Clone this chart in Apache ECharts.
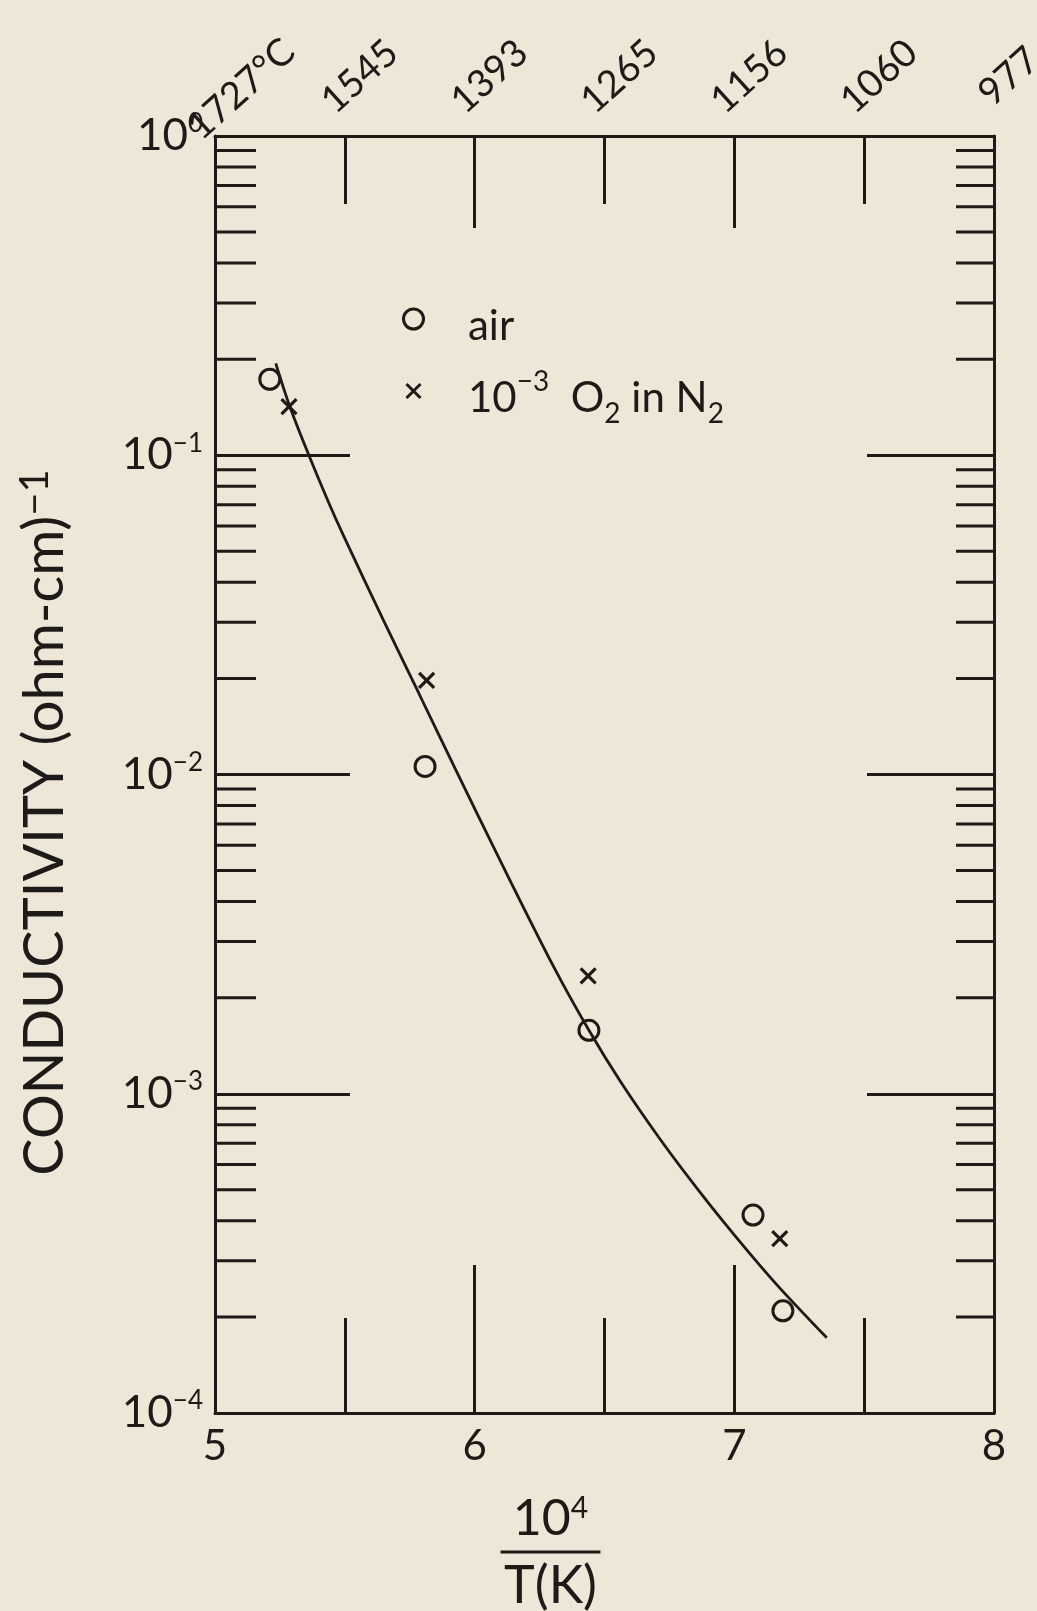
<!DOCTYPE html>
<html>
<head>
<meta charset="utf-8">
<script src="https://cdn.jsdelivr.net/npm/echarts@6/dist/echarts.min.js"></script>
<style>
html,body{margin:0;padding:0;background:#EEE7D8;}
#c{width:1037px;height:1611px;}
</style>
</head>
<body>
<div id="c"></div>
<script>
// ---------------- data ----------------
// x = 10^4 / T(K), y = conductivity (ohm-cm)^-1
const airX = [5.211, 5.809, 6.440, 7.072, 7.187];
const airY = [0.173, 0.0106, 0.00158, 0.000417, 0.000209];

const n2X = [5.285, 5.815, 6.437, 7.175];
const n2Y = [0.142, 0.0197, 0.00234, 0.000352];

const fitX = [5.234, 5.285, 5.353, 5.438, 5.494, 5.648, 5.783, 5.931, 6.097, 6.303, 6.440, 6.562, 6.715, 6.869, 7.010, 7.164, 7.356];
const fitY = [0.194, 0.1445, 0.104, 0.0710, 0.0562, 0.0305, 0.0181, 0.01019, 0.00540, 0.00251, 0.00158, 0.00109, 0.000719, 0.000490, 0.000353, 0.000252, 0.000172];

// axes
const xMin = 5, xMax = 8;
const bottomLabels = ['5', '6', '7', '8'];
const topTickValues = [5, 5.5, 6, 6.5, 7, 7.5, 8];
const topTickLabels = ['1727°C', '1545', '1393', '1265', '1156', '1060', '977'];
const yDecadeValues = [1e-4, 1e-3, 1e-2, 1e-1, 1];
const yDecadeExponents = ['−4', '−3', '−2', '−1', '0'];
const minorDecades = [1e-4, 1e-3, 1e-2, 1e-1];
const minorMultipliers = [2, 3, 4, 5, 6, 7, 8, 9];

const airName = 'air';
const n2Name = '10-3 O2 in N2';

// ---------------- styling ----------------
const INK = '#1d1a17';
const BG = '#EEE7D8';
const FONT = 'Lato, "DejaVu Sans", sans-serif';
const crossPath = 'path://M0,0 L10,10 M10,0 L0,10';
const crossLegendPath = 'path://M0,0 M20,20 M3,3 L17,17 M17,3 L3,17';

const minorTickValues = [];
minorDecades.forEach(d => minorMultipliers.forEach(m => minorTickValues.push(m * d)));

function yLabel(v) {
  let idx = 0, best = Infinity;
  yDecadeValues.forEach((d, i) => {
    const e = Math.abs(Math.log10(v) - Math.log10(d));
    if (e < best) { best = e; idx = i; }
  });
  return '{b|10}{s|' + yDecadeExponents[idx] + '}';
}
function topLabel(v) {
  let idx = 0, best = Infinity;
  topTickValues.forEach((t, i) => { const e = Math.abs(v - t); if (e < best) { best = e; idx = i; } });
  return (idx === 0 ? '{w|' : '{n|') + topTickLabels[idx] + '}';
}
function bottomLabel(v) {
  return bottomLabels[Math.round(v - xMin)];
}

const lineW = 3;
function xAxisBase(pos, interval, tickLen, showLine) {
  return {
    type: 'value', position: pos, min: xMin, max: xMax, interval: interval,
    axisLine: { show: showLine, onZero: false, lineStyle: { color: INK, width: lineW } },
    axisTick: { show: true, inside: true, length: tickLen, lineStyle: { color: INK, width: lineW } },
    axisLabel: { show: false },
    splitLine: { show: false }
  };
}

const chart = echarts.init(document.getElementById('c'), null, { renderer: 'canvas' });

const xAxes = [
  Object.assign(xAxisBase('bottom', 1, 148, true), {
    axisLabel: {
      show: true, formatter: bottomLabel, margin: 12,
      color: INK, fontFamily: FONT, fontSize: 42
    },
    name: '{n|10}{s|4}\n{bar| }\n{d|T(K)}',
    nameLocation: 'middle',
    nameGap: 80,
    nameTextStyle: {
      color: INK, fontFamily: FONT, align: 'center',
      padding: [0, 108, 0, 0],
      rich: {
        n: { fontSize: 50, lineHeight: 52, fontFamily: FONT, color: INK },
        s: { fontSize: 30, verticalAlign: 'top', fontFamily: FONT, color: INK },
        bar: { width: 100, height: 3, lineHeight: 14, backgroundColor: INK },
        d: { fontSize: 52, lineHeight: 54, fontFamily: FONT, color: INK }
      }
    }
  }),
  xAxisBase('bottom', 0.5, 95, false),
  xAxisBase('top', 1, 92, true),
  Object.assign(xAxisBase('top', 0.5, 68, false), {
    axisLabel: {
      show: true, formatter: topLabel, rotate: -42, align: 'center', verticalAlign: 'middle',
      margin: 46, showMinLabel: true, showMaxLabel: true,
      padding: [0, 0, 0, 40],
      color: INK, fontFamily: FONT, fontSize: 38,
      rich: {
        n: { fontSize: 38, fontFamily: FONT, color: INK },
        w: { fontSize: 38, fontFamily: FONT, color: INK, padding: [34, 0, 0, 0] }
      }
    }
  })
];

function yAxisBase(pos, tickLen) {
  return {
    type: 'log', logBase: 10, position: pos, min: 1e-4, max: 1,
    axisLine: { show: true, onZero: false, lineStyle: { color: INK, width: lineW } },
    axisTick: { show: true, inside: true, length: tickLen, lineStyle: { color: INK, width: lineW } },
    axisLabel: { show: false },
    splitLine: { show: false },
    minorTick: { show: false }
  };
}

const yAxes = [
  Object.assign(yAxisBase('left', 135), {
    axisLabel: {
      show: true, formatter: yLabel, margin: 12, showMinLabel: true, showMaxLabel: true,
      color: INK, fontFamily: FONT,
      rich: {
        b: { fontSize: 44, lineHeight: 50, fontFamily: FONT, color: INK },
        s: { fontSize: 26, verticalAlign: 'top', fontFamily: FONT, color: INK }
      }
    },
    name: '{t|CONDUCTIVITY (ohm-cm)}{sup|−1}',
    nameLocation: 'middle',
    nameRotate: 90,
    nameGap: 140,
    nameTextStyle: {
      color: INK, fontFamily: FONT,
      padding: [0, 96, 0, 0],
      rich: {
        t: { fontSize: 56, lineHeight: 60, fontFamily: FONT, color: INK },
        sup: { fontSize: 40, verticalAlign: 'top', fontFamily: FONT, color: INK }
      }
    }
  }),
  yAxisBase('right', 127)
];

const option = {
  backgroundColor: BG,
  animation: false,
  grid: { left: 215, right: 43, top: 136, bottom: 198, containLabel: false, outerBoundsMode: 'none' },
  xAxis: xAxes,
  yAxis: yAxes,
  legend: {
    orient: 'vertical', left: 397, top: 300,
    itemWidth: 99, itemHeight: 20, itemGap: 21,
    selectedMode: false,
    data: [
      { name: airName, icon: 'circle' },
      { name: n2Name, icon: crossLegendPath }
    ],
    itemStyle: { color: 'rgba(0,0,0,0)', borderColor: INK, borderWidth: 3, opacity: 1 },
    formatter: function (name) {
      if (name === airName) return '{t|air}';
      return '{t|10}{sup|−3}{t|  O}{sub|2}{t| in N}{sub|2}';
    },
    textStyle: {
      color: INK, fontFamily: FONT, fontSize: 42,
      padding: [14, 0, 0, 0],
      rich: {
        t: { fontSize: 42, lineHeight: 60, fontFamily: FONT, color: INK },
        sup: { fontSize: 28, verticalAlign: 'top', fontFamily: FONT, color: INK },
        sub: { fontSize: 28, verticalAlign: 'bottom', fontFamily: FONT, color: INK }
      }
    }
  },
  series: [
    {
      name: 'fit', type: 'line', xAxisIndex: 0, yAxisIndex: 0,
      data: fitX.map((x, i) => [x, fitY[i]]),
      smooth: 0.3, showSymbol: false, symbol: 'none',
      lineStyle: { color: INK, width: 2.8 }, z: 2, silent: true
    },
    {
      name: airName, type: 'scatter', xAxisIndex: 0, yAxisIndex: 0,
      data: airX.map((x, i) => [x, airY[i]]),
      symbol: 'circle', symbolSize: 20,
      itemStyle: { color: 'rgba(0,0,0,0)', borderColor: INK, borderWidth: 3, opacity: 1 }, z: 3
    },
    {
      name: n2Name, type: 'scatter', xAxisIndex: 0, yAxisIndex: 0,
      data: n2X.map((x, i) => [x, n2Y[i]]),
      symbol: crossPath, symbolSize: 15,
      itemStyle: { color: 'rgba(0,0,0,0)', borderColor: INK, borderWidth: 3.2, opacity: 1 }, z: 3
    },
    {
      name: 'minorTicks', type: 'custom', xAxisIndex: 0, yAxisIndex: 0,
      silent: true, clip: false,
      data: minorTickValues.map(v => [xMin, v]),
      renderItem: function (params, api) {
        const v = api.value(1);
        const l = api.coord([xMin, v]);
        const r = api.coord([xMax, v]);
        return {
          type: 'group',
          children: [
            { type: 'line', shape: { x1: l[0], y1: l[1], x2: l[0] + 41, y2: l[1] }, style: { stroke: INK, lineWidth: lineW } },
            { type: 'line', shape: { x1: r[0] - 38, y1: r[1], x2: r[0], y2: r[1] }, style: { stroke: INK, lineWidth: lineW } }
          ]
        };
      }
    }
  ]
};
chart.setOption(option);
</script>
</body>
</html>
